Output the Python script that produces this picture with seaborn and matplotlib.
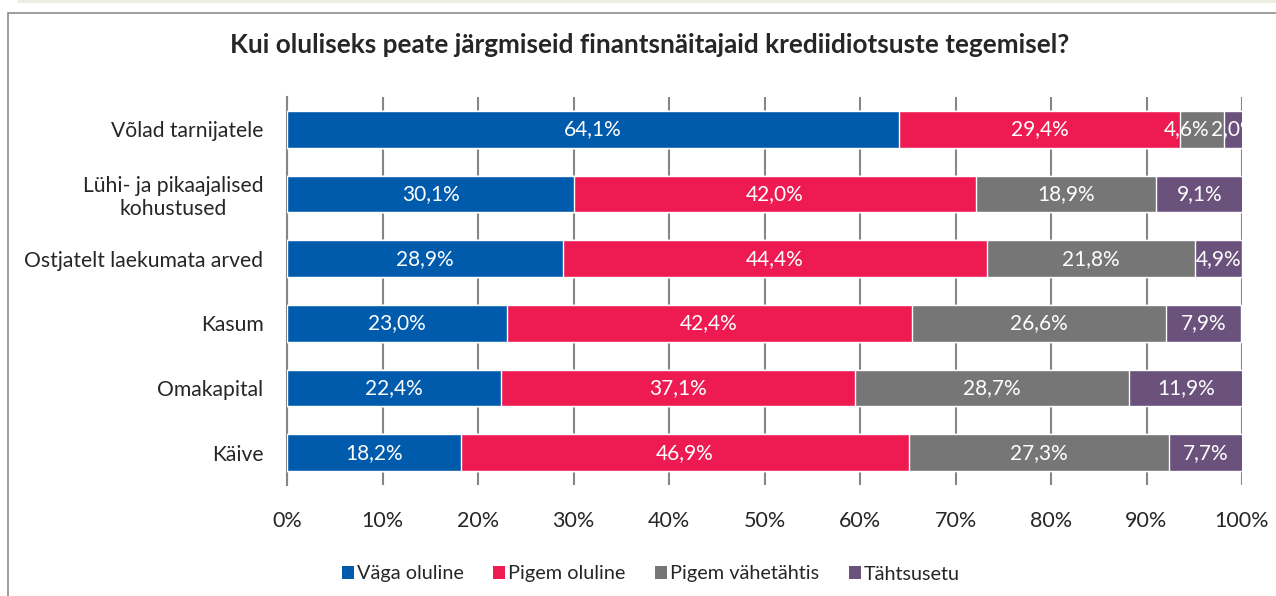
import matplotlib.pyplot as plt
import numpy as np
import pandas as pd
import seaborn as sns
from matplotlib.patches import Rectangle, Patch
from matplotlib.lines import Line2D

categories = ["Võlad tarnijatele", "Lühi- ja pikaajalised\nkohustused",
              "Ostjatelt laekumata arved", "Kasum", "Omakapital", "Käive"]
series = ["Väga oluline", "Pigem oluline", "Pigem vähetähtis", "Tähtsusetu"]
vaga = [64.1, 30.1, 28.9, 23.0, 22.4, 18.2]
pigem = [29.4, 42.0, 44.4, 42.4, 37.1, 46.9]
vahe = [4.6, 18.9, 21.8, 26.6, 28.7, 27.3]
tahtsusetu = [2.0, 9.1, 4.9, 7.9, 11.9, 7.7]
colors = ["#005BAC", "#ED1B52", "#767676", "#6B527C"]

sns.set_style("white")
plt.rcParams['font.family'] = ['Lato', 'DejaVu Sans']

df = pd.DataFrame({"cat": categories, series[0]: vaga, series[1]: pigem,
                   series[2]: vahe, series[3]: tahtsusetu})
vals = df[series].to_numpy()
cum = np.cumsum(vals, axis=1)

fig = plt.figure(figsize=(12.76, 5.96), dpi=100)
ax = fig.add_axes([287 / 1276, 1 - 485 / 596, (1242 - 287) / 1276, (485 - 97) / 596])

# stacked bars: draw cumulative totals from the widest to the narrowest
for i in range(len(series) - 1, -1, -1):
    sns.barplot(x=cum[:, i], y=df["cat"], color=colors[i], orient="h",
                width=0.57, edgecolor="white", linewidth=1.0, saturation=1,
                ax=ax, zorder=3)

for r in range(len(categories)):
    for i in range(len(series)):
        left = cum[r, i] - vals[r, i]
        xc = left + vals[r, i] / 2
        # small segment followed by another small one: nudge label left
        if i < len(series) - 1 and vals[r, i] < 6 and vals[r, i + 1] < 6:
            xc -= 1.6
        ax.text(xc, r, f"{vals[r, i]:.1f}%".replace(".", ","), ha="center", va="center",
                color="white", fontsize=15, zorder=5, clip_on=True)

ax.set_xlim(0, 100)
ax.set_ylim(len(categories) - 0.5, -0.5)
ax.set_xticks(np.arange(0, 101, 10))
ax.set_xticklabels([f"{t}%" for t in range(0, 101, 10)], fontsize=15.5)
ax.tick_params(axis="x", length=0, pad=19)
ax.tick_params(axis="y", length=0, pad=17, labelsize=15.2)
for lab in ax.get_yticklabels():
    lab.set_multialignment("center")
ax.set_xlabel("")
ax.set_ylabel("")
ax.grid(axis="x", color="#868686", linewidth=1.5, zorder=0)
ax.set_axisbelow(True)
for s in ["top", "right", "bottom"]:
    ax.spines[s].set_visible(False)
ax.spines["left"].set_color("#868686")
ax.spines["left"].set_linewidth(1.5)

fig.text(650 / 1276, 1 - 45 / 596,
         "Kui oluliseks peate järgmiseid finantsnäitajaid krediidiotsuste tegemisel?",
         ha="center", va="center", fontsize=18.8, fontweight="bold")

handles = [Patch(facecolor=c, edgecolor="none") for c in colors]
fig.legend(handles, series, loc="center", bbox_to_anchor=(651 / 1276, 1 - 574 / 596),
           ncol=4, frameon=False, fontsize=14.3, handlelength=0.6, handleheight=0.6,
           handletextpad=0.15, columnspacing=1.5)

fig.patches.append(Rectangle((8 / 1276, -0.1), 1.2, (596 - 13) / 596 + 0.1,
                             transform=fig.transFigure, fill=False,
                             edgecolor="#8C8C8C", linewidth=1.2))
fig.lines.append(Line2D([18 / 1276, 1], [1 - 1 / 596, 1 - 1 / 596],
                        transform=fig.transFigure, color="#EEEBDF", linewidth=2))

fig.savefig("out.png", dpi=100)
